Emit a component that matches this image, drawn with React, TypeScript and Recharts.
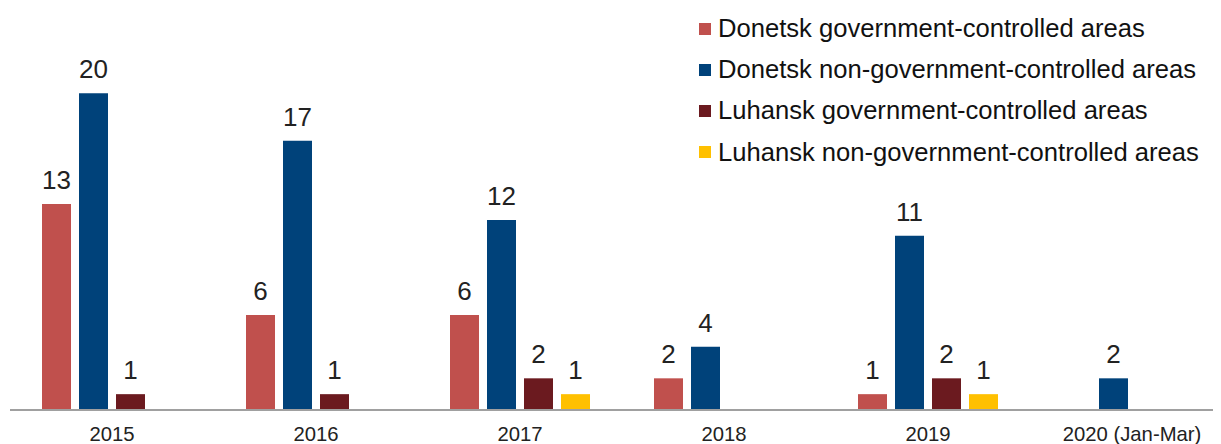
import { BarChart, Bar, XAxis, YAxis, Legend, LabelList } from "recharts";

const years = ["2015", "2016", "2017", "2018", "2019", "2020 (Jan-Mar)"];
const donetskGov = [13, 6, 6, 2, 1, 0];
const donetskNonGov = [20, 17, 12, 4, 11, 2];
const luhanskGov = [1, 1, 2, 0, 2, 0];
const luhanskNonGov = [0, 0, 1, 0, 1, 0];

const seriesNames = [
  "Donetsk government-controlled areas",
  "Donetsk non-government-controlled areas",
  "Luhansk government-controlled areas",
  "Luhansk non-government-controlled areas",
];

const COLORS = ["#c0504d", "#00427a", "#6b1a1f", "#ffc000"];
const FONT = '"Liberation Sans", Arial, sans-serif';

const data = years.map((year, i) => ({
  year,
  dg: donetskGov[i],
  dn: donetskNonGov[i],
  lg: luhanskGov[i],
  ln: luhanskNonGov[i],
}));

// zero counts get no label
const hideZero = (v: unknown) => (v === 0 ? "" : String(v));

function LegendList({ payload }: { payload?: { value: string; color: string }[] }) {
  return (
    <div style={{ fontFamily: FONT, fontSize: 25.6, color: "#111" }}>
      {(payload ?? []).map((p, i) => (
        <div key={i} style={{ display: "flex", alignItems: "center", height: 41.2 }}>
          <span style={{ width: 12, height: 12, background: p.color, marginRight: 7, display: "inline-block" }} />
          <span>{p.value}</span>
        </div>
      ))}
    </div>
  );
}

export default function App() {
  const keys = ["dg", "dn", "lg", "ln"];
  return (
    <div style={{ width: 1213, height: 436, overflow: "hidden" }}>
      <BarChart
        width={1226}
        height={436}
        data={data}
        margin={{ top: 6, right: 0, left: 2, bottom: 0 }}
        barCategoryGap={32}
        barGap={8}
      >
        <XAxis
          dataKey="year"
          height={34}
          tickLine={false}
          tickSize={6}
          tickMargin={11}
          axisLine={{ stroke: "#a0a0a0", strokeWidth: 2 }}
          tick={{ fontSize: 20.3, fill: "#222", fontFamily: FONT }}
        />
        <YAxis hide domain={[0, 25]} />
        <Legend
          layout="vertical"
          align="center"
          verticalAlign="middle"
          wrapperStyle={{ top: 0, left: 691, width: 540 }}
          content={(props: any) => <LegendList payload={props.payload} />}
        />
        {keys.map((k, i) => (
          <Bar key={k} dataKey={k} name={seriesNames[i]} fill={COLORS[i]} isAnimationActive={false}>
            <LabelList
              dataKey={k}
              position="top"
              offset={15}
              formatter={hideZero}
              style={{ fontSize: 26, fill: "#222", fontFamily: FONT }}
            />
          </Bar>
        ))}
      </BarChart>
    </div>
  );
}
